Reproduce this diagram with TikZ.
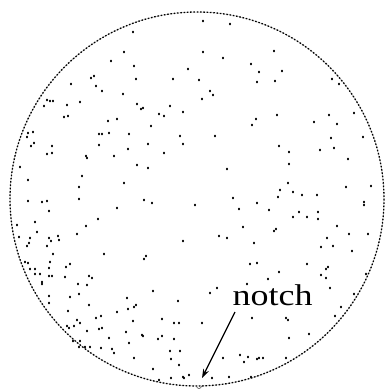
\documentclass[tikz,border=0pt]{standalone}
\usepackage{fontspec}
\setmainfont{Liberation Serif}
\usetikzlibrary{arrows.meta}
\begin{document}
\begin{tikzpicture}[x=1pt,y=-1pt,
  defect/.style={fill=black},
  rim/.style={draw=black,line width=1.3pt,dash pattern=on 1.5pt off 1.8pt},
  rimbase/.style={draw=black!35,line width=0.5pt},
  pointer/.style={draw=black,line width=1.3pt,-{Stealth[length=9pt,width=6pt]}}]
\useasboundingbox (0,0) rectangle (384,390);
% wafer outline
\draw[rimbase] (197,199) circle (187);
\draw[rim] (197,199) circle (187);
% notch
\draw[black!70,line width=0.6pt] (196.5,386) arc (180:0:2.5);
% defects
\foreach \x/\y in {
133/32,124/52,111/61,134/66,188/69,91/78,94/76,136/79,173/79,199/80,71/84,96/86,102/91,123/94,
47/100,50/101,53/101,44/106,80/102,67/105,137/104,143/108,141/109,170/106,183/112,159/114,164/116,
64/117,68/116,108/121,117/119,151/126,28/133,33/132,27/137,99/134,102/134,109/133,129/134,180/136,
31/146,34/143,52/146,99/145,148/144,183/144,20/167,47/154,52/153,86/156,87/158,114/156,128/149,
164/153,137/165,148/168,82/176,28/180,79/187,124/183,
203/21,230/24,203/52,223/58,274/51,251/64,259/72,282/71,257/82,275/81,210/91,213/95,202/99,
332/79,339/84,354/113,277/115,256/119,252/125,314/122,329/115,337/124,215/136,331/138,363/137,
279/146,289/152,320/150,334/148,289/164,348/159,227/169,288/183,280/190,293/192,302/195,317/195,
346/187,371/186,233/198,278/197,
28/201,42/202,47/201,79/199,49/211,117/208,144/200,152/203,195/205,35/222,17/225,98/219,86/226,
37/232,19/237,30/238,29/243,27/246,49/238,51/241,47/246,58/236,59/240,77/234,183/241,53/254,
104/254,146/256,144/259,25/262,28/263,50/262,70/264,66/267,30/269,35/269,49/268,35/274,40/274,
49/276,52/276,65/277,89/276,92/278,42/282,42/284,78/284,87/285,79/294,70/297,49/296,49/303,
89/305,127/298,136/305,134/307,153/291,178/301,68/311,128/309,117/312,96/318,101/316,77/320,
80/323,133/321,162/319,174/323,179/323,67/326,69/328,74/326,87/331,99/329,102/328,126/332,
142/335,143/336,158/339,162/336,174/339,109/338,129/343,73/341,80/341,79/347,85/347,90/347,
101/348,112/349,114/353,170/351,180/351,134/358,171/359,179/365,153/369,183/377,184/378,189/375,
171/378,159/380,
239/209,257/203,269/210,293/217,299/212,307/217,318/212,318/219,364/202,364/205,243/227,274/231,
276/229,219/236,227/238,254/243,337/226,349/234,368/234,327/238,333/246,321/247,352/251,250/264,
257/263,279/272,307/264,328/267,326/269,321/275,326/278,366/274,268/279,247/284,217/288,210/293,
330/288,354/294,341/307,335/316,202/323,252/318,286/318,288/320,289/338,309/334,223/358,240/355,
244/362,248/357,257/359,259/358,263/358,286/358,229/377,212/378,251/377}
  \fill[defect] (\x,\y) ellipse (1.2 and 1.4);
% label and pointer
\node[anchor=base,inner sep=0pt] (lbl) at (272.5,305)
  {\fontsize{30}{30}\selectfont\scalebox{1.2}[1]{notch}};
\coordinate (from) at (235,312);
\coordinate (tip) at (202,378);
\draw[pointer] (from) -- (tip);
\end{tikzpicture}
\end{document}
